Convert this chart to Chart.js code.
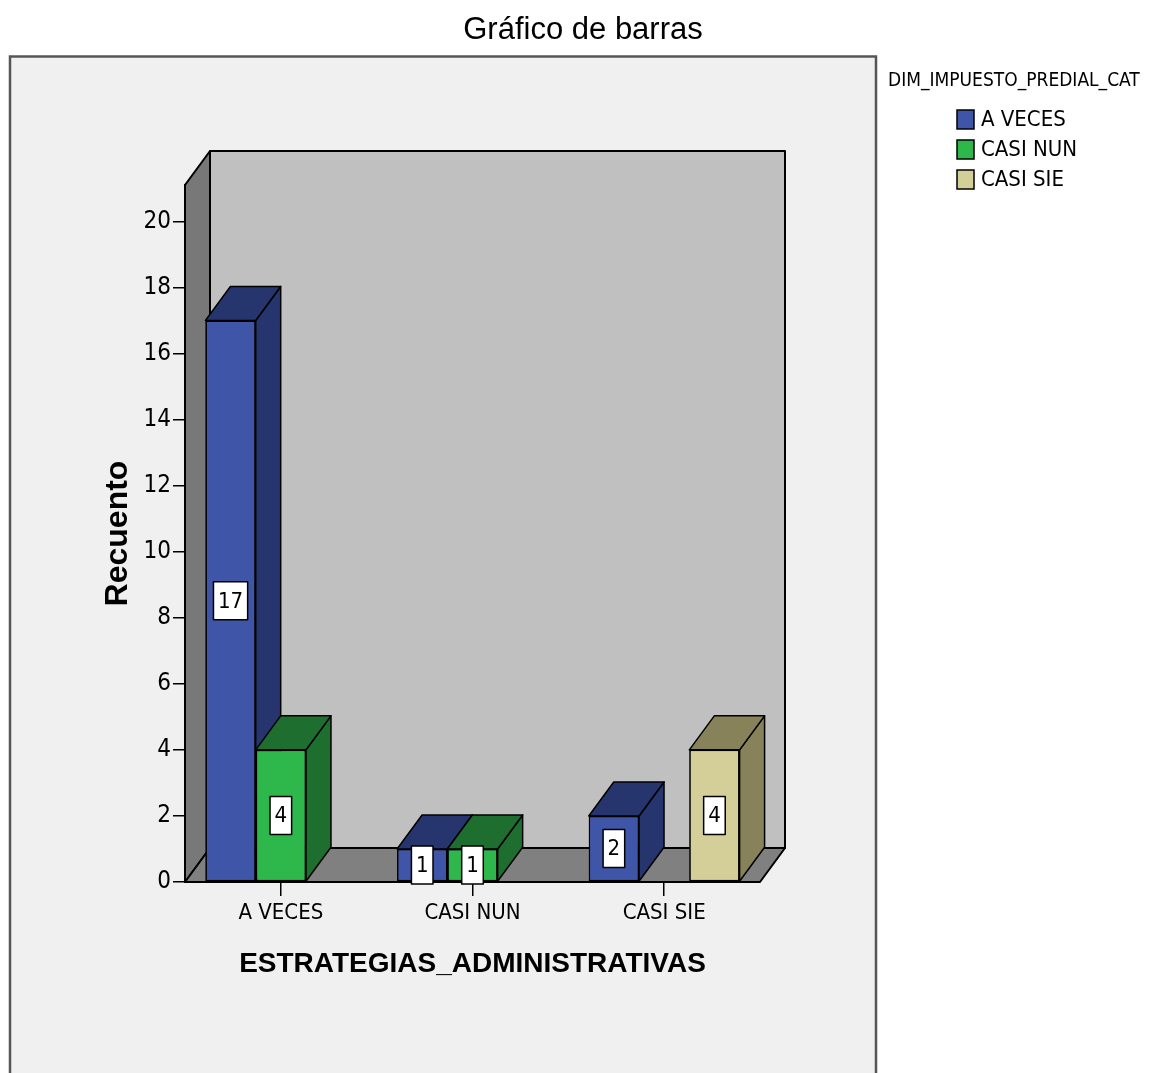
<!DOCTYPE html>
<html>
<head>
<meta charset="utf-8">
<style>
  html, body { margin: 0; padding: 0; background: #fff; }
  #wrap { position: absolute; left: 0; top: 0; width: 1151px; height: 1073px; }
</style>
</head>
<body>
<div id="wrap">
  <canvas id="barChart" width="1151" height="1073"></canvas>
</div>

<script src="https://cdn.jsdelivr.net/npm/chart.js"></script>
<script>
  // datos del gráfico
  const categories = ['A VECES', 'CASI NUN', 'CASI SIE'];
  const seriesNames = ['A VECES', 'CASI NUN', 'CASI SIE'];
  const countAVeces = [17, 1, 2];
  const countCasiNun = [4, 1, 0];
  const countCasiSie = [0, 0, 4];
  const yTicks = [0, 2, 4, 6, 8, 10, 12, 14, 16, 18, 20];

  const NARROW = '"Liberation Sans Narrow", "Arial Narrow", "DejaVu Sans Condensed", sans-serif';
  const SANS = '"Liberation Sans", Arial, sans-serif';

  const frontColors = ['#3e55a8', '#2eb84b', '#d4cf98'];
  const darkColors = ['#26356e', '#1e6e30', '#878259'];
  const depth = { x: 25, y: -34 };

  function poly(ctx, pts, fill) {
    ctx.beginPath();
    ctx.moveTo(pts[0][0], pts[0][1]);
    for (let i = 1; i < pts.length; i++) ctx.lineTo(pts[i][0], pts[i][1]);
    ctx.closePath();
    ctx.fillStyle = fill;
    ctx.fill();
    ctx.stroke();
  }

  // marco, título, leyenda y paredes de la caja 3D
  const boxPlugin = {
    id: 'box3d',
    beforeDraw(chart) {
      const ctx = chart.ctx;
      const a = chart.chartArea;
      ctx.save();
      ctx.fillStyle = '#fff';
      ctx.fillRect(0, 0, chart.width, chart.height);

      ctx.fillStyle = '#f0f0f0';
      ctx.fillRect(10, 56.5, 866, 1100);
      ctx.strokeStyle = '#555';
      ctx.lineWidth = 2.5;
      ctx.strokeRect(10, 56.5, 866, 1100);

      ctx.fillStyle = '#000';
      ctx.font = '31px ' + SANS;
      ctx.textAlign = 'center';
      ctx.textBaseline = 'middle';
      ctx.fillText('Gráfico de barras', 583, 30);

      // leyenda
      ctx.font = '19px ' + NARROW;
      ctx.textAlign = 'left';
      ctx.fillText('DIM_IMPUESTO_PREDIAL_CAT', 888, 81);
      ctx.font = '22px ' + NARROW;
      ctx.lineWidth = 1.5;
      ctx.strokeStyle = '#000';
      chart.data.datasets.forEach((ds, i) => {
        const top = 110 + i * 30;
        ctx.fillStyle = ds.backgroundColor;
        ctx.fillRect(957, top, 17, 19);
        ctx.strokeRect(957, top, 17, 19);
        ctx.fillStyle = '#000';
        ctx.fillText(ds.label, 981, top + 10.5);
      });

      // paredes
      const dx = depth.x, dy = depth.y;
      ctx.strokeStyle = '#000';
      ctx.lineWidth = 2;
      ctx.lineJoin = 'round';
      poly(ctx, [[a.left + dx, a.top + dy], [a.right + dx, a.top + dy],
                 [a.right + dx, a.bottom + dy], [a.left + dx, a.bottom + dy]], '#c0c0c0');
      poly(ctx, [[a.left, a.bottom], [a.left, a.top], [a.left + dx, a.top + dy],
                 [a.left + dx, a.bottom + dy]], '#787878');
      poly(ctx, [[a.left, a.bottom], [a.right, a.bottom], [a.right + dx, a.bottom + dy],
                 [a.left + dx, a.bottom + dy]], '#808080');
      ctx.restore();
    },
    // Chart.js pinta la serie 0 al final; se repinta de izquierda a derecha
    // cada barra con sus caras superior y lateral, y luego las etiquetas
    afterDatasetsDraw(chart) {
      const ctx = chart.ctx;
      const dx = depth.x, dy = depth.y;
      ctx.save();
      chart.data.datasets.forEach((ds, i) => {
        chart.getDatasetMeta(i).data.forEach((bar, j) => {
          if (!ds.data[j]) return;
          bar.draw(ctx);
          const p = bar.getProps(['x', 'y', 'base', 'width'], true);
          const l = p.x - p.width / 2, r = p.x + p.width / 2;
          ctx.strokeStyle = '#000';
          ctx.lineWidth = 1.5;
          ctx.lineJoin = 'round';
          poly(ctx, [[r, p.y], [r + dx, p.y + dy], [r + dx, p.base + dy], [r, p.base]], ds.darkColor);
          poly(ctx, [[l, p.y], [r, p.y], [r + dx, p.y + dy], [l + dx, p.y + dy]], ds.darkColor);
        });
      });

      ctx.font = '22px ' + NARROW;
      ctx.textAlign = 'center';
      ctx.textBaseline = 'middle';
      ctx.lineWidth = 1.5;
      ctx.strokeStyle = '#000';
      chart.data.datasets.forEach((ds, i) => {
        chart.getDatasetMeta(i).data.forEach((bar, j) => {
          const v = ds.data[j];
          if (!v) return;
          const p = bar.getProps(['x', 'y', 'base'], true);
          const cy = (p.y + p.base) / 2;
          const w = ctx.measureText(String(v)).width + 9;
          const h = 38;
          ctx.fillStyle = '#fff';
          ctx.fillRect(p.x - w / 2, cy - h / 2, w, h);
          ctx.strokeRect(p.x - w / 2, cy - h / 2, w, h);
          ctx.fillStyle = '#000';
          ctx.fillText(String(v), p.x, cy + 1);
        });
      });
      ctx.restore();
    }
  };

  const seriesValues = [countAVeces, countCasiNun, countCasiSie];
  const datasets = seriesNames.map((name, i) => ({
    label: name,
    data: seriesValues[i],
    backgroundColor: frontColors[i],
    darkColor: darkColors[i],
    borderColor: '#000',
    borderWidth: c => (c.raw ? 1.5 : 0),
    borderSkipped: false,
    categoryPercentage: 0.787,
    barPercentage: 1
  }));

  new Chart(document.getElementById('barChart').getContext('2d'), {
    type: 'bar',
    data: { labels: categories, datasets: datasets },
    plugins: [boxPlugin],
    options: {
      responsive: false,
      animation: false,
      layout: { padding: { left: 90, right: 391, top: 185, bottom: 92 } },
      plugins: {
        legend: { display: false },
        tooltip: { enabled: false }
      },
      scales: {
        x: {
          offset: true,
          grid: { offset: false, drawOnChartArea: false, tickLength: 14, color: '#000', lineWidth: 1.5 },
          border: { color: '#000', width: 1.5 },
          ticks: { color: '#000', font: { family: NARROW, size: 22 }, padding: 4, maxRotation: 0 },
          title: {
            display: true, text: 'ESTRATEGIAS_ADMINISTRATIVAS', color: '#000',
            font: { family: SANS, size: 28, weight: 'bold' }, padding: 0
          },
          afterFit: s => { s.height = 99; }
        },
        y: {
          min: 0,
          max: 21.1,
          afterBuildTicks: s => { s.ticks = yTicks.map(v => ({ value: v })); },
          grid: { drawOnChartArea: false, tickLength: 12, color: '#000', lineWidth: 1.5 },
          border: { color: '#000', width: 1.5 },
          ticks: { color: '#000', font: { family: NARROW, size: 24 }, padding: 2 },
          title: {
            display: true, text: 'Recuento', color: '#000',
            font: { family: SANS, size: 32, weight: 'bold' }, padding: { top: 9, bottom: 0 }
          },
          afterFit: s => { s.width = 95; }
        }
      }
    }
  });
</script>
</body>
</html>
